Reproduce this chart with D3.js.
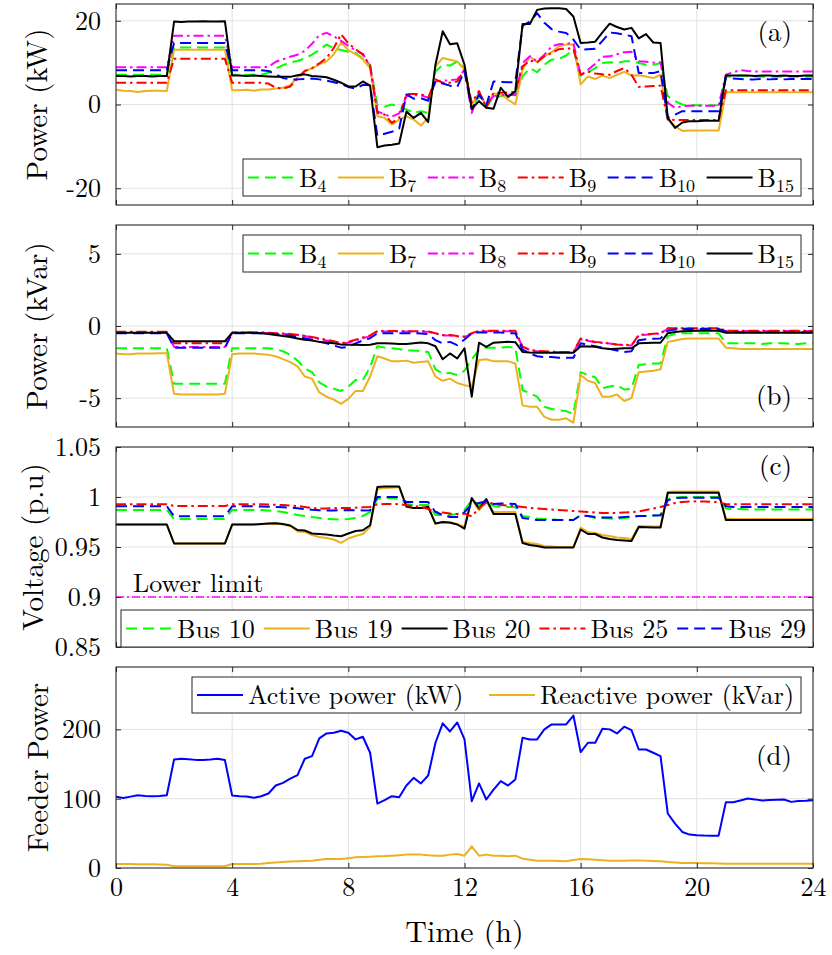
<!DOCTYPE html>
<html>
<head>
<meta charset="utf-8">
<script src="https://cdn.jsdelivr.net/npm/d3@7"></script>
<style>
  body { margin: 0; background: #fff; }
  #chart text { font-family: "Latin Modern Roman", "Liberation Serif", serif; }
</style>
</head>
<body>
<svg id="chart" width="832" height="955"></svg>
<script>
// ---- time axis (h), 15-minute resolution ----
const hours = [0,0.25,0.5,0.75,1,1.25,1.5,1.75,2,2.25,2.5,2.75,3,3.25,3.5,3.75,4,4.25,4.5,4.75,5,5.25,5.5,5.75,6,6.25,6.5,6.75,7,7.25,7.5,7.75,8,8.25,8.5,8.75,9,9.25,9.5,9.75,10,10.25,10.5,10.75,11,11.25,11.5,11.75,12,12.25,12.5,12.75,13,13.25,13.5,13.75,14,14.25,14.5,14.75,15,15.25,15.5,15.75,16,16.25,16.5,16.75,17,17.25,17.5,17.75,18,18.25,18.5,18.75,19,19.25,19.5,19.75,20,20.25,20.5,20.75,21,21.25,21.5,21.75,22,22.25,22.5,22.75,23,23.25,23.5,23.75,24];
const xTicks = [0, 4, 8, 12, 16, 20, 24];

// ---- (a) active power of the batteries (kW) ----
const activeB4 = [7.1,7.1,7.1,7.1, 7.1,7.1,7.1,7.1,
 13.6,13.6,13.6,13.6, 13.6,13.6,13.6,13.6,
 7.1,7.1,7.1,7.1, 7.1,7.6,8.6,9.4,
 10.0,10.4,11.0,11.9, 13.0,14.3,13.5,13.0,
 12.6,12.3,11.0,9.5, -0.2,-0.5,0.0,-0.6,
 -1.2,-2.0,-1.6,-2.0, 7.9,9.5,9.3,10.3,
 8.7,-0.8,2.0,-0.4, 1.6,2.0,2.2,2.8,
 6.7,8.7,7.7,9.5, 10.7,10.9,11.7,13.1,
 6.9,7.7,8.7,9.9, 10.1,9.9,10.3,10.3,
 9.9,9.5,9.5,9.9, 2.0,0.8,0.0,-0.1,
 -0.2,-0.2,-0.2,-0.2, 6.6,6.7,6.9,6.8,
 6.7,6.6,6.6,6.6, 6.7,6.6,6.6,6.6, 6.6];
const activeB7 = [3.5,3.3,3.2,3.0, 3.2,3.3,3.3,3.2,
 13.1,13.1,13.1,13.1, 13.1,13.1,13.1,13.1,
 3.4,3.4,3.5,3.3, 3.6,3.6,3.8,4.0,
 4.6,6.5,8.0,8.6, 9.6,10.3,12.0,14.8,
 13.0,12.0,10.8,8.7, -2.8,-3.2,-4.8,-3.6,
 -2.8,-3.6,-5.0,-3.2, 9.1,11.1,10.7,10.3,
 8.3,0.0,2.8,-0.3, 2.6,2.4,1.2,0.0,
 8.3,11.5,10.1,11.5, 12.5,13.9,14.3,14.3,
 4.8,6.7,6.1,6.9, 6.3,7.1,7.8,6.9,
 7.0,6.7,6.3,7.1, -3.6,-5.2,-6.3,-6.2,
 -6.2,-6.2,-6.2,-6.2, 2.9,2.9,2.9,2.9,
 2.9,2.9,2.9,2.9, 2.9,2.9,2.9,2.9, 2.9];
const activeB8 = [8.9,8.9,8.9,8.9, 8.9,8.9,8.9,8.9,
 16.4,16.4,16.4,16.4, 16.4,16.4,16.4,16.4,
 8.9,8.9,8.9,8.9, 8.9,9.0,10.2,10.8,
 11.4,11.9,12.8,14.5, 16.6,17.1,16.3,15.2,
 14.0,12.9,12.1,9.1, -1.6,-2.4,-2.9,-2.1,
 2.0,2.2,2.2,1.6, 5.5,5.7,5.8,6.0,
 8.3,-2.0,2.8,0.0, 2.0,2.2,2.4,2.2,
 9.9,11.5,10.3,11.9, 13.9,14.4,14.5,14.7,
 7.0,8.3,9.7,11.4, 11.5,12.0,12.5,12.6,
 10.3,10.2,10.0,10.1, 0.4,-0.8,-0.4,-0.3,
 -0.3,-0.3,-0.3,-0.3, 7.1,7.7,8.2,8.0,
 7.9,7.9,7.9,7.9, 7.9,7.9,7.9,7.9, 7.9];
const activeB9 = [5.2,5.2,5.2,5.2, 5.2,5.2,5.2,5.2,
 10.9,10.9,10.9,10.9, 10.9,10.9,10.9,10.9,
 5.2,5.2,5.2,5.2, 5.2,5.0,4.0,3.8,
 4.3,6.2,8.0,8.7, 9.8,11.1,13.5,16.8,
 14.6,13.2,11.9,9.3, -2.0,-2.4,-4.4,-3.2,
 2.5,2.5,2.5,1.6, 6.0,5.2,5.2,5.5,
 8.3,0.4,3.2,-0.8, 2.8,2.8,2.9,3.0,
 9.1,10.5,10.1,11.5, 12.3,13.2,13.4,13.4,
 7.1,7.9,7.4,7.2, 7.1,8.0,8.7,7.1,
 4.2,4.3,4.4,4.5, -3.6,-3.7,-3.7,-3.7,
 -3.7,-3.7,-3.7,-3.7, 3.4,3.4,3.4,3.4,
 3.4,3.4,3.4,3.4, 3.4,3.4,3.4,3.4, 3.4];
const activeB10 = [8.2,8.2,8.2,8.2, 8.2,8.2,8.2,8.2,
 14.7,14.7,14.7,14.7, 14.7,14.7,14.7,14.7,
 8.2,8.2,8.2,8.2, 8.2,8.0,7.2,6.3,
 6.0,6.0,6.1,6.2, 6.0,5.7,5.3,4.9,
 4.2,3.8,4.7,4.6, -7.5,-7.0,-6.5,-5.8,
 2.4,1.4,1.5,0.9, 5.5,5.0,4.5,4.2,
 8.0,-1.2,2.4,-0.2, 5.5,5.4,5.3,5.3,
 18.8,19.8,21.8,19.5, 18.0,17.4,17.1,15.5,
 13.1,13.2,13.3,15.2, 17.2,17.0,16.7,16.3,
 7.5,7.5,7.5,8.0, -3.2,-2.4,-1.6,-1.6,
 -1.6,-1.6,-1.6,-1.6, 6.3,6.2,6.1,6.0,
 6.0,6.1,6.0,6.1, 6.0,6.1,6.1,6.1, 6.1];
const activeB15 = [6.8,6.8,6.7,6.8, 6.8,6.7,6.8,6.8,
 19.8,19.7,19.8,19.8, 19.9,19.8,19.8,19.9,
 6.9,6.9,6.8,6.9, 6.8,6.7,6.6,6.6,
 6.6,7.0,7.2,6.8, 6.7,6.5,5.9,5.2,
 4.3,4.3,5.5,4.5, -10.2,-9.8,-9.6,-9.3,
 -1.7,-3.2,-2.0,-4.2, 9.5,17.5,14.4,14.6,
 9.5,-1.0,0.8,-0.8, -1.0,4.0,1.8,3.2,
 19.2,19.2,22.6,22.9, 23.0,23.0,22.8,21.0,
 14.7,14.8,15.0,17.2, 19.3,18.5,17.9,18.3,
 15.8,16.8,14.8,14.7, -3.2,-5.6,-4.3,-4.0,
 -4.0,-3.9,-3.9,-3.9, 6.9,6.9,6.9,6.9,
 6.8,6.9,6.9,6.8, 6.9,6.8,6.8,6.9, 6.9];

// ---- (b) reactive power of the batteries (kVar) ----
const reactB4 = [-1.55,-1.55,-1.55,-1.55, -1.55,-1.55,-1.55,-1.55,
 -4.0,-4.0,-4.0,-4.0, -4.0,-4.0,-4.0,-4.0,
 -1.55,-1.55,-1.55,-1.55, -1.55,-1.55,-1.6,-1.75,
 -2.0,-2.4,-2.95,-3.2, -3.9,-4.2,-4.35,-4.5,
 -4.2,-3.75,-3.75,-2.85, -1.4,-1.5,-1.55,-1.6,
 -1.7,-1.7,-1.75,-1.8, -3.0,-3.3,-3.25,-3.4,
 -3.1,-2.3,-1.65,-1.5, -1.5,-1.5,-1.45,-1.5,
 -4.45,-4.65,-4.9,-5.6, -5.75,-5.85,-5.9,-6.1,
 -3.2,-3.4,-3.55,-4.3, -4.2,-4.1,-4.4,-4.35,
 -2.7,-2.65,-2.6,-2.6, -0.7,-0.56,-0.5,-0.5,
 -0.5,-0.5,-0.5,-0.5, -1.2,-1.2,-1.2,-1.2,
 -1.2,-1.25,-1.2,-1.2, -1.2,-1.25,-1.25,-1.2, -1.2];
const reactB7 = [-1.9,-1.95,-1.95,-1.9, -1.9,-1.9,-1.88,-1.88,
 -4.7,-4.75,-4.75,-4.75, -4.75,-4.75,-4.75,-4.7,
 -1.95,-1.9,-1.9,-1.9, -1.95,-2.0,-2.1,-2.3,
 -2.5,-2.8,-3.5,-3.65, -4.6,-4.9,-5.1,-5.4,
 -5.05,-4.5,-4.5,-3.5, -2.1,-2.25,-2.45,-2.45,
 -2.4,-2.55,-2.5,-2.45, -3.5,-3.8,-3.65,-3.95,
 -4.1,-4.2,-2.35,-2.3, -2.45,-2.45,-2.45,-2.6,
 -5.5,-5.6,-5.6,-6.3, -6.5,-6.5,-6.4,-6.7,
 -3.4,-3.8,-3.95,-4.9, -4.9,-4.75,-5.2,-5.0,
 -3.2,-3.15,-3.1,-3.0, -1.1,-1.0,-0.9,-0.86,
 -0.86,-0.86,-0.86,-0.86, -1.5,-1.55,-1.6,-1.6,
 -1.6,-1.6,-1.6,-1.6, -1.6,-1.6,-1.6,-1.6, -1.6];
const reactB8 = [-0.44,-0.44,-0.44,-0.44, -0.44,-0.44,-0.44,-0.44,
 -1.45,-1.45,-1.45,-1.45, -1.45,-1.45,-1.45,-1.45,
 -0.45,-0.45,-0.45,-0.45, -0.46,-0.48,-0.52,-0.55,
 -0.58,-0.63,-0.7,-0.8, -0.9,-1.0,-1.1,-1.25,
 -1.15,-1.0,-0.85,-0.7, -0.38,-0.38,-0.38,-0.38,
 -0.38,-0.38,-0.4,-0.4, -0.52,-0.65,-0.66,-0.72,
 -0.76,-0.55,-0.36,-0.36, -0.36,-0.36,-0.36,-0.36,
 -1.46,-1.68,-1.75,-1.78, -1.8,-1.82,-1.82,-1.82,
 -0.9,-1.02,-1.12,-1.18, -1.22,-1.3,-1.32,-1.35,
 -0.66,-0.6,-0.55,-0.53, -0.18,-0.17,-0.17,-0.17,
 -0.17,-0.17,-0.17,-0.17, -0.35,-0.35,-0.35,-0.35,
 -0.35,-0.35,-0.35,-0.35, -0.35,-0.35,-0.35,-0.35, -0.35];
const reactB9 = [-0.4,-0.4,-0.4,-0.4, -0.4,-0.4,-0.4,-0.4,
 -1.2,-1.2,-1.2,-1.2, -1.2,-1.2,-1.2,-1.2,
 -0.45,-0.45,-0.45,-0.45, -0.45,-0.47,-0.5,-0.52,
 -0.55,-0.6,-0.68,-0.76, -0.86,-0.95,-1.05,-1.2,
 -1.1,-0.95,-0.8,-0.65, -0.35,-0.35,-0.35,-0.35,
 -0.36,-0.36,-0.37,-0.37, -0.5,-0.63,-0.63,-0.7,
 -0.74,-0.5,-0.33,-0.33, -0.33,-0.33,-0.33,-0.33,
 -1.44,-1.65,-1.72,-1.75, -1.78,-1.8,-1.8,-1.8,
 -0.86,-1.0,-1.1,-1.15, -1.2,-1.28,-1.3,-1.33,
 -0.63,-0.58,-0.53,-0.51, -0.16,-0.15,-0.15,-0.15,
 -0.15,-0.15,-0.15,-0.15, -0.33,-0.33,-0.33,-0.33,
 -0.33,-0.33,-0.33,-0.33, -0.33,-0.33,-0.33,-0.33, -0.33];
const reactB10 = [-0.51,-0.51,-0.51,-0.51, -0.51,-0.51,-0.51,-0.51,
 -1.5,-1.5,-1.5,-1.5, -1.5,-1.5,-1.5,-1.5,
 -0.5,-0.5,-0.5,-0.5, -0.5,-0.52,-0.56,-0.62,
 -0.68,-0.74,-0.85,-0.95, -1.1,-1.2,-1.35,-1.5,
 -1.45,-1.2,-1.0,-0.85, -0.5,-0.5,-0.5,-0.5,
 -0.5,-0.5,-0.52,-0.55, -0.98,-1.2,-1.1,-1.33,
 -0.93,-0.51,-0.44,-0.45, -0.45,-0.45,-0.5,-0.5,
 -1.63,-1.9,-2.1,-2.15, -2.15,-2.2,-2.2,-2.2,
 -1.2,-1.3,-1.4,-1.5, -1.6,-1.7,-1.8,-1.75,
 -0.98,-0.92,-0.88,-0.86, -0.33,-0.25,-0.2,-0.2,
 -0.2,-0.2,-0.2,-0.2, -0.4,-0.42,-0.44,-0.44,
 -0.44,-0.44,-0.44,-0.44, -0.44,-0.44,-0.44,-0.44, -0.44];
const reactB15 = [-0.47,-0.47,-0.47,-0.47, -0.47,-0.47,-0.47,-0.47,
 -1.05,-1.05,-1.05,-1.05, -1.05,-1.05,-1.05,-1.05,
 -0.47,-0.47,-0.47,-0.47, -0.5,-0.55,-0.63,-0.7,
 -0.76,-0.86,-0.95,-1.0, -1.1,-1.15,-1.2,-1.28,
 -1.3,-1.3,-1.32,-1.3, -1.2,-1.2,-1.22,-1.25,
 -1.25,-1.2,-1.15,-1.2, -1.4,-2.3,-1.9,-2.25,
 -1.55,-4.9,-1.16,-1.44, -1.16,-1.12,-1.1,-1.12,
 -1.8,-1.84,-1.86,-1.86, -1.86,-1.86,-1.86,-1.86,
 -1.4,-1.42,-1.44,-1.55, -1.6,-1.58,-1.55,-1.55,
 -1.2,-1.18,-1.16,-1.16, -0.5,-0.42,-0.36,-0.35,
 -0.33,-0.33,-0.33,-0.33, -0.47,-0.47,-0.47,-0.47,
 -0.47,-0.47,-0.47,-0.47, -0.47,-0.47,-0.47,-0.47, -0.47];

// ---- (c) bus voltages (p.u) ----
const bus10 = [0.987,0.987,0.987,0.987, 0.987,0.987,0.987,0.987,
 0.978,0.978,0.978,0.978, 0.978,0.978,0.978,0.978,
 0.987,0.987,0.987,0.987, 0.987,0.9865,0.986,0.985,
 0.9835,0.982,0.981,0.980, 0.979,0.978,0.9778,0.9775,
 0.978,0.979,0.981,0.985, 0.998,0.999,0.999,0.998,
 0.993,0.992,0.992,0.992, 0.982,0.982,0.982,0.983,
 0.987,0.997,0.992,0.995, 0.991,0.990,0.990,0.990,
 0.981,0.980,0.9785,0.978, 0.978,0.977,0.977,0.977,
 0.982,0.981,0.979,0.979, 0.9785,0.978,0.979,0.980,
 0.981,0.981,0.9815,0.9817, 0.998,0.9995,1.0,1.0,
 1.0,1.0,1.0,1.0, 0.9885,0.988,0.988,0.9875,
 0.9875,0.9875,0.9875,0.9875, 0.9875,0.9875,0.9875,0.9875, 0.9875];
const bus19 = [0.9724,0.9724,0.9724,0.9724, 0.9724,0.9724,0.9724,0.9724,
 0.9535,0.9535,0.9535,0.9535, 0.9535,0.9535,0.9535,0.9535,
 0.9724,0.9724,0.9724,0.9726, 0.9728,0.9732,0.9734,0.9725,
 0.971,0.9655,0.9651,0.962, 0.960,0.959,0.9575,0.9542,
 0.9585,0.961,0.963,0.970, 1.008,1.009,1.0093,1.010,
 0.990,0.989,0.989,0.990, 0.9734,0.9745,0.974,0.973,
 0.970,0.998,0.9867,0.995, 0.985,0.985,0.985,0.985,
 0.955,0.954,0.953,0.951, 0.9505,0.950,0.950,0.950,
 0.9695,0.965,0.964,0.962, 0.961,0.9595,0.959,0.958,
 0.971,0.9708,0.9706,0.9705, 1.005,1.0055,1.0056,1.0056,
 1.0056,1.0056,1.0056,1.0056, 0.9784,0.978,0.978,0.978,
 0.978,0.9782,0.978,0.978, 0.978,0.978,0.978,0.978, 0.978];
const bus20 = [0.9724,0.9724,0.9724,0.9724, 0.9724,0.9724,0.9724,0.9724,
 0.9535,0.9535,0.9535,0.9535, 0.9535,0.9535,0.9535,0.9535,
 0.9724,0.9724,0.9724,0.9726, 0.973,0.9735,0.9738,0.973,
 0.9715,0.967,0.9665,0.9635, 0.963,0.9625,0.9615,0.9608,
 0.9635,0.966,0.9668,0.9718, 1.010,1.0105,1.0105,1.0105,
 0.9905,0.989,0.989,0.990, 0.9734,0.975,0.9745,0.9725,
 0.9684,0.999,0.9884,0.998, 0.983,0.983,0.983,0.983,
 0.954,0.952,0.951,0.9495, 0.9495,0.9495,0.9495,0.9495,
 0.9675,0.963,0.963,0.9595, 0.958,0.957,0.9565,0.956,
 0.970,0.9698,0.9696,0.9695, 1.0043,1.0043,1.0043,1.0043,
 1.0043,1.0043,1.0043,1.0043, 0.977,0.977,0.977,0.977,
 0.977,0.977,0.977,0.977, 0.977,0.977,0.977,0.977, 0.977];
const bus25 = [0.9927,0.9927,0.9927,0.9927, 0.9927,0.9927,0.9927,0.9927,
 0.991,0.991,0.991,0.991, 0.991,0.991,0.991,0.991,
 0.9927,0.9927,0.9927,0.9927, 0.9927,0.9925,0.9922,0.992,
 0.9915,0.991,0.990,0.989, 0.9885,0.9885,0.9888,0.989,
 0.989,0.9893,0.9897,0.990, 0.9927,0.993,0.993,0.9928,
 0.9917,0.9912,0.990,0.988, 0.985,0.9845,0.9834,0.983,
 0.9835,0.9805,0.989,0.9945, 0.9935,0.992,0.9915,0.991,
 0.990,0.989,0.9884,0.988, 0.9875,0.987,0.9865,0.986,
 0.9855,0.985,0.9845,0.984, 0.984,0.984,0.9845,0.985,
 0.9855,0.987,0.9885,0.990, 0.992,0.994,0.995,0.9955,
 0.9957,0.9955,0.9952,0.995, 0.9927,0.9927,0.9927,0.9927,
 0.9927,0.9927,0.9927,0.9927, 0.9927,0.9927,0.9927,0.9927, 0.9927];
const bus29 = [0.9907,0.9907,0.9907,0.9907, 0.9907,0.9907,0.9907,0.9907,
 0.9807,0.9807,0.9807,0.9807, 0.9807,0.9807,0.9807,0.9807,
 0.9907,0.9907,0.9907,0.9907, 0.9905,0.9903,0.990,0.9897,
 0.9894,0.9888,0.988,0.9872, 0.9867,0.9865,0.9865,0.9868,
 0.987,0.9868,0.9866,0.9867, 1.0,1.0,1.0,1.0,
 0.995,0.995,0.995,0.995, 0.985,0.982,0.980,0.980,
 0.985,0.9927,0.994,0.9957, 0.993,0.9934,0.9934,0.993,
 0.979,0.978,0.977,0.977, 0.977,0.977,0.977,0.977,
 0.9817,0.981,0.980,0.9794, 0.9794,0.9794,0.980,0.9805,
 0.981,0.981,0.9815,0.9817, 0.9967,0.999,0.9993,0.9993,
 0.9993,0.9993,0.9993,0.9993, 0.9907,0.990,0.990,0.990,
 0.990,0.990,0.990,0.990, 0.990,0.990,0.990,0.990, 0.990];
const lowerLimit = 0.9;

// ---- (d) feeder power ----
const feederActive = [102.7,101,103,105, 104,103.6,104,105,
 156.6,157.6,157,156, 155.7,156.5,157.6,155.7,
 104.6,103.6,103,101.2, 103.6,107.5,119,122.9,
 129,134,157.6,161.4, 187,194.2,195.2,198,
 195.2,185.5,189.4,166.3, 93,97.8,103.6,102.2,
 119,130,122,133.5, 180.7,208.7,197,210,
 185.5,96.4,122,98.8, 113,125.3,119,127.7,
 188,185.5,185.5,200, 207.2,207.2,207.2,220,
 167.2,180.7,180.7,201, 200,194.2,203.9,199,
 171,171,166.3,161.4, 78.6,64,52,48.2,
 47.2,46.8,46.7,46.7, 95,95,97.5,100.2,
 99,97.3,98,98.5, 98.8,95.4,96.5,97, 97.8];
const feederReactive = [5.8,5.8,5.6,5.5, 5.4,5.3,5.1,4.8,
 2.4,2.5,2.5,2.5, 2.5,2.6,2.6,2.6,
 5.8,5.8,5.8,5.9, 6.3,7.2,8.0,8.7,
 9.2,9.6,10.1,10.6, 12,13,13,13,
 14.2,15.4,16,16.4, 16.9,17.2,17.8,18.5,
 19.3,19.3,19.3,18.3, 17.8,17.8,19.3,20.2,
 17.8,31.3,17.8,19.3, 17.8,17.5,16.9,17.8,
 13.5,12,10.6,10.6, 10.6,10,9.6,11.5,
 13,12.5,12,11.3, 10.6,10.6,10.6,10.8,
 11,10.5,10,9.6, 8.5,7.8,7.2,7.2,
 7.2,7,6.8,6.6, 6.3,6.3,6.3,6.3,
 6.3,6.3,6.3,6.3, 6.3,6.3,6.3,6.3, 6.3];

// ---- styling ----
const FONT = "\"Latin Modern Roman\", \"Liberation Serif\", serif";
const COL = { green: "#00ff00", orange: "#edb120", magenta: "#ff00ff", red: "#ff0000", blue: "#0000ff", black: "#000000" };
const DASH = "11,6";
const DASHDOT = "10,4,2.5,4";
const AXIS = "#262626";
const GRID = "#e2e2e2";

const batteryStyle = [
  { name: "B", sub: "4",  color: COL.green,   dash: DASH },
  { name: "B", sub: "7",  color: COL.orange,  dash: null },
  { name: "B", sub: "8",  color: COL.magenta, dash: DASHDOT },
  { name: "B", sub: "9",  color: COL.red,     dash: DASHDOT },
  { name: "B", sub: "10", color: COL.blue,    dash: DASH },
  { name: "B", sub: "15", color: COL.black,   dash: null }
];
const busStyle = [
  { name: "Bus 10", color: COL.green,  dash: DASH },
  { name: "Bus 19", color: COL.orange, dash: null },
  { name: "Bus 20", color: COL.black,  dash: null },
  { name: "Bus 25", color: COL.red,    dash: DASHDOT },
  { name: "Bus 29", color: COL.blue,   dash: DASH }
];

const panels = [
  { top: 4, bottom: 205, domain: [-24, 24], ticks: [-20, 0, 20],
    ylabel: "Power (kW)", ylabelX: 47, tag: "(a)", tagY: 41,
    series: [activeB4, activeB7, activeB8, activeB9, activeB10, activeB15].map((d, i) => ({ data: d, ...batteryStyle[i] })),
    legend: { x0: 243, x1: 801, y0: 159, y1: 196 } },
  { top: 225, bottom: 427, domain: [-7, 7], ticks: [-5, 0, 5],
    ylabel: "Power (kVar)", ylabelX: 47, tag: "(b)", tagY: 405,
    series: [reactB4, reactB7, reactB8, reactB9, reactB10, reactB15].map((d, i) => ({ data: d, ...batteryStyle[i] })),
    legend: { x0: 243, x1: 801, y0: 235, y1: 272 } },
  { top: 447, bottom: 647, domain: [0.85, 1.05], ticks: [0.85, 0.9, 0.95, 1, 1.05],
    ylabel: "Voltage (p.u)", ylabelX: 43, tag: "(c)", tagY: 475,
    series: [bus10, bus19, bus20, bus25, bus29].map((d, i) => ({ data: d, ...busStyle[i] })),
    legend: { x0: 121, x1: 813, y0: 610, y1: 647 } },
  { top: 667, bottom: 868, domain: [0, 290], ticks: [0, 100, 200],
    ylabel: "Feeder Power", ylabelX: 48, tag: "(d)", tagY: 765,
    series: [
      { data: feederActive,   name: "Active power (kW)",      color: COL.blue,   dash: null },
      { data: feederReactive, name: "Reactive power (kVar)",  color: COL.orange, dash: null }
    ],
    legend: { x0: 192, x1: 801, y0: 677, y1: 713 } }
];

const svg = d3.select("#chart");
const x = d3.scaleLinear().domain([0, 24]).range([116, 813]);

function label(sel, size) {
  return sel.attr("font-family", FONT).style("font-family", FONT)
    .style("font-size", size + "px").attr("fill", "#000");
}

function drawLegend(g, box, items) {
  const lg = g.append("g");
  lg.append("rect")
    .attr("x", box.x0).attr("y", box.y0)
    .attr("width", box.x1 - box.x0).attr("height", box.y1 - box.y0)
    .attr("fill", "#fff").attr("stroke", AXIS).attr("stroke-width", 1);
  const cy = (box.y0 + box.y1) / 2;
  const texts = items.map(it => {
    const t = label(lg.append("text").attr("y", cy + 9), 26);
    t.append("tspan").text(it.name);
    if (it.sub) t.append("tspan").attr("dy", 5).style("font-size", "18px").text(it.sub);
    return t;
  });
  const widths = texts.map(t => t.node().getComputedTextLength());
  const L = 46, G = 5, padL = 5, padR = 7;
  const used = d3.sum(widths) + items.length * (L + G);
  const gap = (box.x1 - box.x0 - padL - padR - used) / Math.max(1, items.length - 1);
  let cx = box.x0 + padL;
  items.forEach((it, i) => {
    lg.append("line")
      .attr("x1", cx).attr("x2", cx + L).attr("y1", cy).attr("y2", cy)
      .attr("stroke", it.color).attr("stroke-width", 2)
      .attr("stroke-dasharray", it.dash);
    texts[i].attr("x", cx + L + G);
    cx += L + G + widths[i] + gap;
  });
}

panels.forEach((p, pi) => {
  const y = d3.scaleLinear().domain(p.domain).range([p.bottom, p.top]);
  const g = svg.append("g");
  const [x0, x1] = x.range();

  // grid
  g.append("g").selectAll("line").data(xTicks.slice(1, -1)).join("line")
    .attr("x1", d => x(d)).attr("x2", d => x(d)).attr("y1", p.top).attr("y2", p.bottom)
    .attr("stroke", GRID).attr("stroke-width", 1);
  g.append("g").selectAll("line").data(p.ticks.filter(t => y(t) > p.top + 1 && y(t) < p.bottom - 1)).join("line")
    .attr("x1", x0).attr("x2", x1).attr("y1", d => y(d)).attr("y2", d => y(d))
    .attr("stroke", GRID).attr("stroke-width", 1);

  // clip region
  const clipId = "clip" + pi;
  g.append("clipPath").attr("id", clipId).append("rect")
    .attr("x", x0).attr("y", p.top).attr("width", x1 - x0).attr("height", p.bottom - p.top);
  const plot = g.append("g").attr("clip-path", `url(#${clipId})`);

  if (pi === 2) {
    plot.append("line")
      .attr("x1", x(0)).attr("x2", x(24)).attr("y1", y(lowerLimit)).attr("y2", y(lowerLimit))
      .attr("stroke", COL.magenta).attr("stroke-width", 1.3).attr("stroke-dasharray", "8,3,2,3");
  }

  const line = d3.line().x((d, i) => x(hours[i])).y(d => y(d));
  p.series.forEach(s => {
    plot.append("path").datum(s.data)
      .attr("d", line).attr("fill", "none")
      .attr("stroke", s.color).attr("stroke-width", 2)
      .attr("stroke-linejoin", "round")
      .attr("stroke-dasharray", s.dash);
  });

  // axes (ticks inside, mirrored)
  const fmt = d => String(d);
  const left = g.append("g").attr("transform", `translate(${x0},0)`)
    .call(d3.axisLeft(y).tickValues(p.ticks).tickSize(-5).tickPadding(15).tickFormat(fmt));
  const right = g.append("g").attr("transform", `translate(${x1},0)`)
    .call(d3.axisRight(y).tickValues(p.ticks).tickSize(-5).tickFormat(""));
  const bottom = g.append("g").attr("transform", `translate(0,${p.bottom})`)
    .call(d3.axisBottom(x).tickValues(xTicks).tickSize(-5).tickPadding(10).tickFormat(pi === 3 ? fmt : ""));
  const topAx = g.append("g").attr("transform", `translate(0,${p.top})`)
    .call(d3.axisTop(x).tickValues(xTicks).tickSize(-5).tickFormat(""));
  [left, right, bottom, topAx].forEach(a => {
    a.attr("font-family", FONT);
    a.select(".domain").remove();
    a.selectAll("line").attr("stroke", AXIS);
    label(a.selectAll("text"), 26);
  });

  g.append("rect")
    .attr("x", x0).attr("y", p.top).attr("width", x1 - x0).attr("height", p.bottom - p.top)
    .attr("fill", "none").attr("stroke", AXIS).attr("stroke-width", 1.1);

  // y label
  label(g.append("text")
    .attr("transform", `translate(${p.ylabelX},${(p.top + p.bottom) / 2}) rotate(-90)`)
    .attr("text-anchor", "middle"), 29)
    .text(p.ylabel);

  // panel tag
  label(g.append("text").attr("x", 792).attr("y", p.tagY)
    .attr("text-anchor", "end"), 27).text(p.tag);

  if (pi === 2) {
    label(g.append("text").attr("x", 133).attr("y", 592), 26).text("Lower limit");
  }

  drawLegend(g, p.legend, p.series);
});

// x label
label(svg.append("text").attr("x", (x.range()[0] + x.range()[1]) / 2).attr("y", 942)
  .attr("text-anchor", "middle"), 30).text("Time (h)");
</script>
</body>
</html>
